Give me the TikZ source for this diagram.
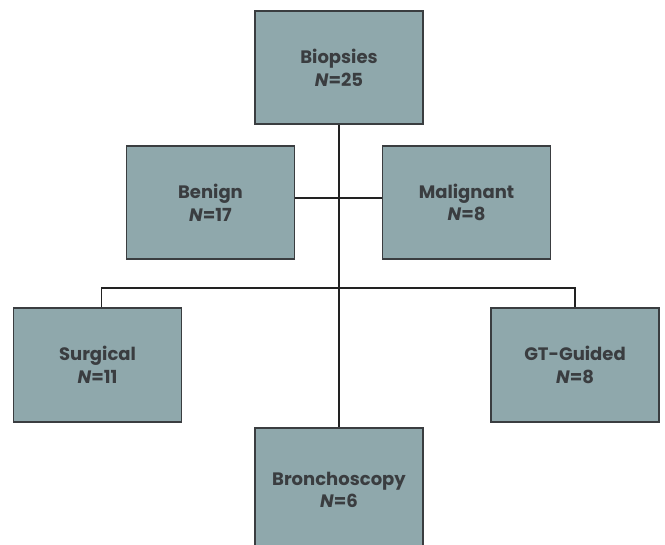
\documentclass[tikz,border=0pt]{standalone}
\usepackage{fontspec}
\setmainfont{Poppins}
\definecolor{boxfill}{HTML}{8FA8AC}
\definecolor{boxline}{HTML}{3A3D40}
\definecolor{linkline}{HTML}{222222}
\begin{document}
\begin{tikzpicture}
    [
    x=0.75pt,y=-0.75pt,
    group/.style={rectangle,draw=boxline,fill=boxfill,line width=1.4pt,
      minimum width=126pt,minimum height=85pt,inner sep=0pt,align=center,
      text=boxline,font=\fontsize{13.5}{17}\selectfont\bfseries},
    link/.style={draw=linkline,line width=1.4pt}
    ]
    \useasboundingbox (0,0) rectangle (665,544);
    \node (bio) at (339,67.5) [group] {Biopsies\\\textit{N}=25};
    \node (ben) at (210.5,202.5) [group] {Benign\\\textit{N}=17};
    \node (mal) at (466.5,202.5) [group] {Malignant\\\textit{N}=8};
    \node (sur) at (97.5,365) [group] {Surgical\\\textit{N}=11};
    \node (gtg) at (575,365) [group] {GT-Guided\\\textit{N}=8};
    \node (bro) at (339,490) [group,minimum height=93pt] {Bronchoscopy\\\textit{N}=6};
    \coordinate (split) at (339,288);
    \draw [link] (bio) to (bro);
    \draw [link] ([yshift=3.5pt]ben.east) to ([yshift=3.5pt]mal.west);
    \draw [link] ([xshift=3pt]sur.north) |- (split) -| (gtg.north);
  \end{tikzpicture}
\end{document}
